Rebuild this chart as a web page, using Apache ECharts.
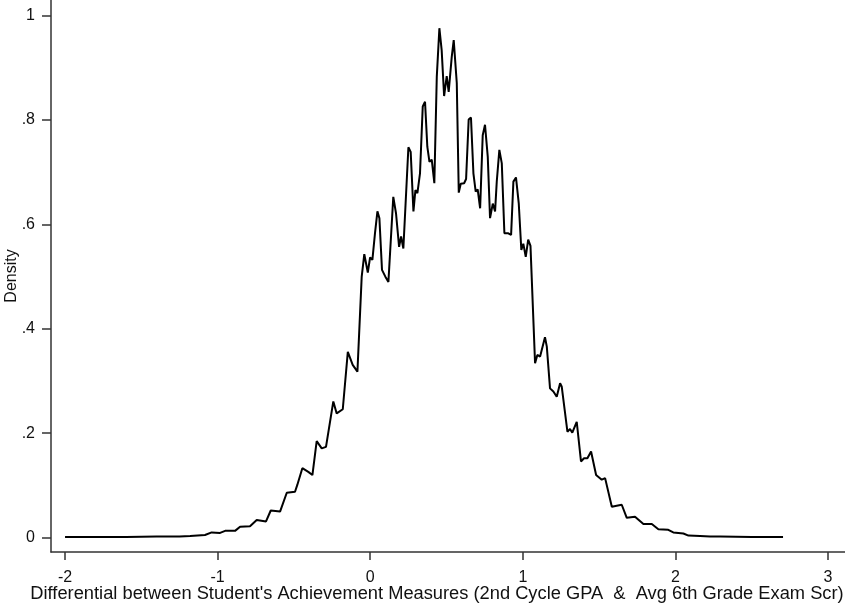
<!DOCTYPE html>
<html>
<head>
<meta charset="utf-8">
<script src="https://cdn.jsdelivr.net/npm/echarts@6/dist/echarts.min.js"></script>
<style>
  html, body { margin: 0; padding: 0; background: #fff; }
  #chart { width: 845px; height: 605px; }
</style>
</head>
<body>
<div id="chart"></div>
<script>
// x positions of the density curve (differential)
var xVals = [
  -2.0, -1.8, -1.6, -1.4, -1.25, -1.18, -1.083, -1.039, -0.984, -0.951,
  -0.886, -0.853, -0.788, -0.744, -0.683, -0.652, -0.591, -0.547, -0.493, -0.478,
  -0.445, -0.406, -0.379, -0.351, -0.318, -0.290, -0.242, -0.220, -0.180, -0.147,
  -0.115, -0.084, -0.056, -0.039, -0.016, -0.001, 0.014, 0.031, 0.047, 0.060,
  0.077, 0.099, 0.119, 0.151, 0.169, 0.189, 0.202, 0.217, 0.250, 0.265,
  0.283, 0.296, 0.309, 0.326, 0.344, 0.359, 0.374, 0.388, 0.403, 0.420,
  0.436, 0.453, 0.468, 0.484, 0.501, 0.514, 0.534, 0.547, 0.567, 0.580,
  0.593, 0.615, 0.628, 0.645, 0.660, 0.676, 0.691, 0.704, 0.720, 0.737,
  0.752, 0.770, 0.785, 0.803, 0.818, 0.829, 0.846, 0.862, 0.879, 0.905,
  0.923, 0.938, 0.955, 0.973, 0.990, 1.003, 1.019, 1.035, 1.050, 1.080,
  1.095, 1.113, 1.145, 1.157, 1.178, 1.200, 1.222, 1.244, 1.255, 1.292,
  1.309, 1.324, 1.353, 1.381, 1.401, 1.423, 1.447, 1.480, 1.517, 1.539,
  1.583, 1.615, 1.648, 1.681, 1.735, 1.790, 1.845, 1.888, 1.953, 1.986,
  2.052, 2.085, 2.161, 2.227, 2.293, 2.5, 2.705
];
// density values
var densVals = [
  0.001, 0.001, 0.001, 0.002, 0.002, 0.003, 0.005, 0.010, 0.009, 0.013,
  0.013, 0.021, 0.022, 0.034, 0.031, 0.052, 0.050, 0.086, 0.088, 0.101,
  0.133, 0.126, 0.120, 0.185, 0.171, 0.174, 0.261, 0.238, 0.246, 0.356,
  0.331, 0.318, 0.500, 0.543, 0.508, 0.537, 0.532, 0.583, 0.625, 0.612,
  0.513, 0.500, 0.490, 0.653, 0.621, 0.557, 0.577, 0.554, 0.748, 0.739,
  0.625, 0.666, 0.660, 0.698, 0.826, 0.835, 0.749, 0.720, 0.724, 0.679,
  0.883, 0.976, 0.934, 0.846, 0.884, 0.854, 0.921, 0.953, 0.871, 0.661,
  0.678, 0.679, 0.687, 0.801, 0.805, 0.698, 0.663, 0.667, 0.631, 0.771,
  0.791, 0.730, 0.612, 0.640, 0.625, 0.682, 0.743, 0.717, 0.583, 0.583,
  0.580, 0.682, 0.690, 0.641, 0.551, 0.563, 0.538, 0.571, 0.559, 0.334,
  0.350, 0.347, 0.384, 0.366, 0.286, 0.280, 0.270, 0.296, 0.289, 0.203,
  0.208, 0.201, 0.222, 0.146, 0.152, 0.152, 0.165, 0.120, 0.111, 0.114,
  0.059, 0.061, 0.063, 0.038, 0.040, 0.026, 0.026, 0.016, 0.015, 0.010,
  0.008, 0.004, 0.003, 0.002, 0.002, 0.001, 0.001
];

var xTicks = [-2, -1, 0, 1, 2, 3];
var yTicks = [0, 0.2, 0.4, 0.6, 0.8, 1];
var yTickLabels = ['0', '.2', '.4', '.6', '.8', '1'];

var seriesData = xVals.map(function (x, i) { return [x, densVals[i]]; });

var chart = echarts.init(document.getElementById('chart'));
var axisColor = '#333';
var fontFam = '"Liberation Sans", Arial, sans-serif';

var option = {
  backgroundColor: '#fff',
  animation: false,
  grid: { left: 51, right: 0, top: 0, bottom: 53, outerBoundsMode: 'none', containLabel: false },
  xAxis: {
    type: 'value',
    min: -2.092,
    max: 3.111,
    name: "Differential between Student's Achievement Measures (2nd Cycle GPA  &  Avg 6th Grade Exam Scr)",
    nameLocation: 'middle',
    nameGap: 33,
    nameMoveOverlap: false,
    nameTextStyle: { color: '#111', fontSize: 18.3, fontFamily: fontFam, padding: [0, 22, 0, 0] },
    splitLine: { show: false },
    axisLine: { show: true, onZero: false, lineStyle: { color: axisColor, width: 1.5 } },
    axisTick: { show: true, customValues: xTicks, length: 8, lineStyle: { color: axisColor, width: 1.5 } },
    axisLabel: {
      customValues: xTicks,
      margin: 18,
      color: '#111',
      fontSize: 16,
      fontFamily: fontFam
    }
  },
  yAxis: {
    type: 'value',
    min: -0.0275,
    max: 1.03,
    name: 'Density',
    nameLocation: 'middle',
    nameGap: 31,
    nameMoveOverlap: false,
    nameTextStyle: { color: '#111', fontSize: 16, fontFamily: fontFam },
    splitLine: { show: false },
    axisLine: { show: true, onZero: false, lineStyle: { color: axisColor, width: 1.5 } },
    axisTick: { show: true, customValues: yTicks, length: 9, lineStyle: { color: axisColor, width: 1.5 } },
    axisLabel: {
      customValues: yTicks,
      margin: 16,
      color: '#111',
      fontSize: 16,
      fontFamily: fontFam,
      formatter: function (v) {
        var idx = yTicks.findIndex(function (t) { return Math.abs(t - v) < 1e-6; });
        return idx >= 0 ? yTickLabels[idx] : '';
      }
    }
  },
  series: [{
    type: 'line',
    data: seriesData,
    showSymbol: false,
    smooth: false,
    lineStyle: { color: '#000', width: 2 }
  }]
};

chart.setOption(option);
</script>
</body>
</html>
